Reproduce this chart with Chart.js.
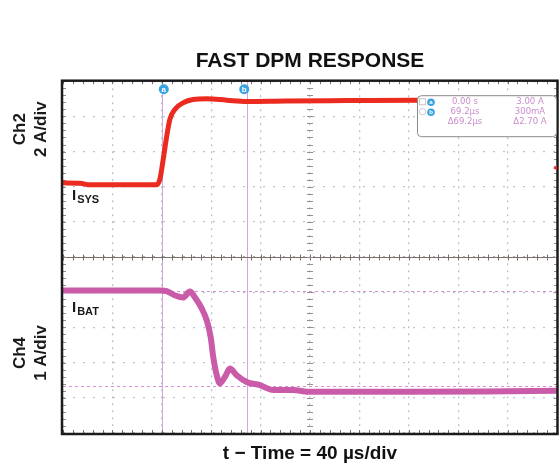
<!DOCTYPE html>
<html>
<head>
<meta charset="utf-8">
<title>Fast DPM Response</title>
<script src="https://cdn.jsdelivr.net/npm/chart.js@4.4.1/dist/chart.umd.min.js"></script>
<style>
  html, body { margin: 0; padding: 0; background: #fff; }
  #wrap { position: relative; width: 560px; height: 465px; }
</style>
</head>
<body>
<div id="wrap"><canvas id="scope" width="560" height="465"></canvas></div>
<script>
// ===== DATOS (tiempo en µs, 40 µs/div; cursor a en t = 0) =====
const timeGridUs = [-80, -40, 0, 40, 80, 120, 160, 200, 240, 280, 320];
const ch2GridAmps = [-4, -2, 0, 2, 4, 6];           // 2 A/div
const ch4GridAmps = [-1.05, -0.05, 0.95, 1.95, 2.95, 3.95]; // 1 A/div

const isysTimeUs = [-80, -66, -60, -30, -4, -1.5, 1.2, 4.0, 6.6, 10.7, 17.2, 25.3, 36.4, 52.5, 68.7, 100, 150, 206, 260, 320];
const isysAmps   = [0.22, 0.2, 0.12, 0.12, 0.12, 0.45, 1.58, 2.88, 3.85, 4.41, 4.77, 4.96, 5.0, 4.92, 4.85, 4.88, 4.9, 4.92, 4.9, 4.9];

const ibatTimeUs = [-80, -40, -1.5, 4.0, 10.7, 17.2, 22.8, 26.9, 32.3, 36.4, 39.6, 41.7, 44.5, 47.1, 51.2, 55.2, 60.6, 68.7, 79.5, 90.3, 106.2, 120, 200, 260, 320];
const ibatAmps   = [3.0, 3.0, 3.0, 2.98, 2.86, 2.8, 2.97, 2.8, 2.49, 2.15, 1.67, 1.1, 0.59, 0.36, 0.55, 0.78, 0.59, 0.4, 0.31, 0.17, 0.17, 0.12, 0.12, 0.13, 0.15];

const cursorTimesUs = [0, 69.2];
const cursorNames = ['a', 'b'];
const cursorLevelsAmps = [3.0, 0.3];
const readoutLeft = ['0.00 s', '69.2µs', 'Δ69.2µs'];
const readoutRight = ['3.00 A', '300mA', 'Δ2.70 A'];
const ch2MarkerAmps = 1.07;

const FONT = "'Liberation Sans', Arial, Helvetica, sans-serif";
const GRID = 'rgba(150, 172, 188, 0.7)';

Chart.defaults.font.family = FONT;

function seg(ctx, x1, y1, x2, y2) {
    ctx.beginPath();
    ctx.moveTo(x1, y1);
    ctx.lineTo(x2, y2);
    ctx.stroke();
}

function badge(ctx, cx, cy, r, letter) {
    ctx.fillStyle = '#39a3e0';
    ctx.beginPath();
    ctx.arc(cx, cy, r, 0, Math.PI * 2);
    ctx.fill();
    ctx.fillStyle = '#fff';
    ctx.font = 'bold ' + (r * 1.6) + 'px ' + FONT;
    ctx.textAlign = 'center';
    ctx.textBaseline = 'middle';
    ctx.fillText(letter, cx, cy + 0.5);
}

function subLabel(ctx, main, sub, x, y) {
    ctx.fillStyle = '#1a1a1a';
    ctx.textAlign = 'left';
    ctx.textBaseline = 'alphabetic';
    ctx.font = 'bold 15px ' + FONT;
    ctx.fillText(main, x, y);
    const w = ctx.measureText(main).width;
    ctx.font = 'bold 11px ' + FONT;
    ctx.fillText(sub, x + w + 1, y + 3);
}

function rotatedPair(ctx, top, bottom, cy) {
    ctx.save();
    ctx.fillStyle = '#1a1a1a';
    ctx.font = 'bold 17px ' + FONT;
    ctx.textAlign = 'center';
    ctx.textBaseline = 'middle';
    [[top, 20], [bottom, 41]].forEach(([txt, cx]) => {
        ctx.save();
        ctx.translate(cx, cy);
        ctx.rotate(-Math.PI / 2);
        ctx.fillText(txt, 0, 0);
        ctx.restore();
    });
    ctx.restore();
}

// ===== DECORACIÓN DE OSCILOSCOPIO =====
const scopeDecor = {
    id: 'scopeDecor',
    beforeDatasetsDraw(chart) {
        const { ctx, chartArea: a, scales: { x, yCh2, yCh4 } } = chart;
        const midY = Math.round(yCh2.bottom) + 0.5;
        const midX = x.getPixelForValue(120);
        const hStep = x.getPixelForValue(8) - x.getPixelForValue(0);
        const vStep = (a.bottom - a.top) / 50;
        ctx.save();

        // cursores verticales
        ctx.strokeStyle = '#d9a3dc';
        ctx.lineWidth = 1;
        cursorTimesUs.forEach(t => {
            const px = Math.round(x.getPixelForValue(t)) + 0.5;
            seg(ctx, px, a.top, px, a.bottom);
        });

        // cursores horizontales Ch4
        ctx.setLineDash([3, 3]);
        ctx.strokeStyle = '#d78fd4';
        cursorLevelsAmps.forEach(v => {
            const py = Math.round(yCh4.getPixelForValue(v)) + 0.5;
            seg(ctx, a.left, py, a.right, py);
        });
        ctx.setLineDash([]);

        // ejes centrales con marcas menores
        ctx.strokeStyle = '#7c6d66';
        ctx.lineWidth = 1;
        seg(ctx, a.left, midY, a.right, midY);
        for (let px = a.left; px <= a.right + 0.5; px += hStep) {
            const p = Math.round(px) + 0.5;
            seg(ctx, p, midY - 3, p, midY + 3);
            seg(ctx, p, a.top, p, a.top + 3);
            seg(ctx, p, a.bottom - 3, p, a.bottom);
        }
        ctx.strokeStyle = '#9a8e88';
        for (let py = a.top; py <= a.bottom + 0.5; py += vStep) {
            const p = Math.round(py) + 0.5;
            seg(ctx, midX - 3, p, midX + 3, p);
            seg(ctx, a.left, p, a.left + 3, p);
            seg(ctx, a.right - 3, p, a.right, p);
        }
        ctx.restore();
    },
    afterDatasetsDraw(chart) {
        const { ctx, chartArea: a, scales: { x, yCh2, yCh4 } } = chart;
        ctx.save();

        // marco
        ctx.strokeStyle = '#1b1b1b';
        ctx.lineWidth = 2.5;
        ctx.strokeRect(a.left - 1, a.top - 0.5, a.right - a.left + 1.5, a.bottom - a.top + 1.5);

        // marcador de canal Ch2
        const my = yCh2.getPixelForValue(ch2MarkerAmps);
        ctx.fillStyle = '#ec2b20';
        ctx.beginPath();
        ctx.moveTo(a.right - 4, my);
        ctx.lineTo(a.right, my - 2.5);
        ctx.lineTo(a.right, my + 2.5);
        ctx.closePath();
        ctx.fill();

        // insignias de cursor
        cursorTimesUs.forEach((t, i) => {
            badge(ctx, x.getPixelForValue(t) + (i === 0 ? 2 : -3), a.top + 8, 5, cursorNames[i]);
        });

        // cuadro de lectura
        const bw = 140, bh = 41;
        const bx = a.right - bw, by = a.top + 14;
        ctx.fillStyle = '#fff';
        ctx.strokeStyle = '#8a8a8a';
        ctx.lineWidth = 1;
        ctx.beginPath();
        ctx.roundRect(bx + 0.5, by + 0.5, bw - 1, bh, 4);
        ctx.fill();
        ctx.stroke();

        ctx.strokeStyle = '#c9c9c9';
        ctx.strokeRect(bx + 2.5, by + 3.5, 6, 6);
        ctx.beginPath();
        ctx.arc(bx + 5.5, by + 16.5, 3.2, 0, Math.PI * 2);
        ctx.stroke();
        badge(ctx, bx + 14, by + 7, 3.8, 'a');
        badge(ctx, bx + 14, by + 17, 3.8, 'b');

        ctx.fillStyle = '#c98ccb';
        ctx.font = '8.5px "DejaVu Sans", sans-serif';
        ctx.textAlign = 'center';
        ctx.textBaseline = 'middle';
        readoutLeft.forEach((txt, i) => ctx.fillText(txt, bx + 48, by + 7 + i * 10));
        readoutRight.forEach((txt, i) => ctx.fillText(txt, bx + 113, by + 7 + i * 10));

        // etiquetas de trazas
        subLabel(ctx, 'I', 'SYS', a.left + 9, yCh2.getPixelForValue(-0.75));
        subLabel(ctx, 'I', 'BAT', a.left + 9, yCh4.getPixelForValue(2.4));

        // etiquetas de canal
        rotatedPair(ctx, 'Ch2', '2 A/div', a.top + 48);
        rotatedPair(ctx, 'Ch4', '1 A/div', a.bottom - 80);
        ctx.restore();
    }
};

// ===== GRÁFICO =====
const ctx = document.getElementById('scope');
new Chart(ctx, {
    type: 'line',
    data: {
        datasets: [
            {
                label: 'ISYS',
                data: isysTimeUs.map((t, i) => ({ x: t, y: isysAmps[i] })),
                yAxisID: 'yCh2',
                borderColor: '#ec2b20',
                borderWidth: 5,
                pointRadius: 0,
                cubicInterpolationMode: 'monotone'
            },
            {
                label: 'IBAT',
                data: ibatTimeUs.map((t, i) => ({ x: t, y: ibatAmps[i] })),
                yAxisID: 'yCh4',
                borderColor: '#c95ba9',
                borderWidth: 6,
                pointRadius: 0,
                cubicInterpolationMode: 'monotone'
            }
        ]
    },
    options: {
        responsive: false,
        animation: false,
        events: [],
        layout: { padding: { left: 0, right: 3, top: 0, bottom: 0 } },
        plugins: {
            legend: { display: false },
            tooltip: { enabled: false },
            title: {
                display: true,
                text: 'FAST DPM RESPONSE',
                color: '#111',
                fullSize: false,
                font: { size: 21, weight: 'bold' },
                padding: { top: 49, bottom: 7 }
            }
        },
        scales: {
            x: {
                type: 'linear',
                min: timeGridUs[0],
                max: timeGridUs[timeGridUs.length - 1],
                afterBuildTicks: s => { s.ticks = timeGridUs.map(v => ({ value: v })); },
                afterFit: s => { s.height = 32; },
                ticks: { display: false },
                grid: { color: GRID, lineWidth: 1.3, drawTicks: false },
                border: { display: false, dash: [2, 5] },
                title: {
                    display: true,
                    text: 't − Time = 40 µs/div',
                    color: '#111',
                    font: { size: 19, weight: 'bold' },
                    padding: { top: 0, bottom: 0 }
                }
            },
            // el primer eje de la pila queda abajo
            yCh4: {
                type: 'linear',
                position: 'left',
                stack: 'scope',
                stackWeight: 1,
                min: ch4GridAmps[0],
                max: ch4GridAmps[ch4GridAmps.length - 1],
                afterBuildTicks: s => { s.ticks = ch4GridAmps.map(v => ({ value: v })); },
                afterFit: s => { s.width = 63; },
                ticks: { display: false },
                grid: { color: GRID, lineWidth: 1.3, drawTicks: false },
                border: { display: false, dash: [2, 8] }
            },
            yCh2: {
                type: 'linear',
                position: 'left',
                stack: 'scope',
                stackWeight: 1,
                min: ch2GridAmps[0],
                max: ch2GridAmps[ch2GridAmps.length - 1],
                afterBuildTicks: s => { s.ticks = ch2GridAmps.map(v => ({ value: v })); },
                afterFit: s => { s.width = 63; },
                ticks: { display: false },
                grid: { color: GRID, lineWidth: 1.3, drawTicks: false },
                border: { display: false, dash: [2, 8] }
            }
        }
    },
    plugins: [scopeDecor]
});
</script>
</body>
</html>
